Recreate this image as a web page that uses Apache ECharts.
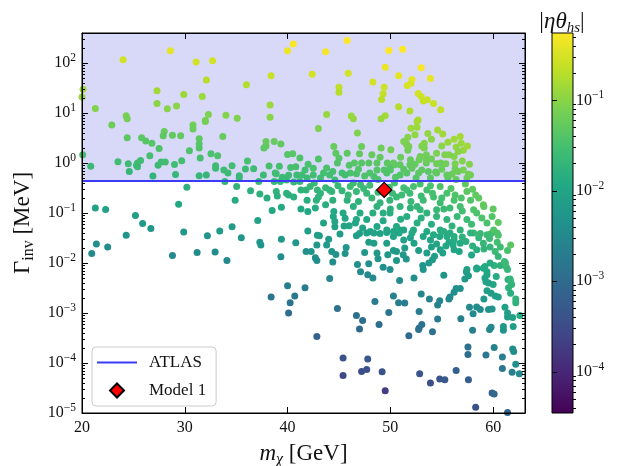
<!DOCTYPE html>
<html>
<head>
<meta charset="utf-8">
<script src="https://cdn.jsdelivr.net/npm/echarts@6/dist/echarts.min.js"></script>
<style>
  html, body { margin: 0; padding: 0; background: #fff; }
  #chart { width: 624px; height: 466px; }
</style>
</head>
<body>
<div id="chart"></div>
<script>
// each point: [m_chi (GeV), Gamma_inv (MeV), |eta theta_hs|]
const pointsAbove = [
  [20.1,30,0.14],[20.0,21,0.12],[21.3,12.4,0.09],[24.0,117,0.28],[28.6,176,0.37],[27.3,28,0.14],[27.3,15.6,0.10],
  [28.3,12.2,0.097],[29.2,13.8,0.10],[29.9,23.5,0.13],[31.1,105,0.28],[32.7,111,0.29],[32.1,46,0.19],[31.7,21.5,0.13],
  [36.0,37,0.18],[38.4,56,0.25],[38.3,14.5,0.13],[40.0,176,0.45],[40.55,240,0.52],[42.4,60,0.30],[43.7,168,0.50],
  [45.8,283,0.64],[45.9,63,0.30],[45.0,33,0.22],[45.0,26,0.19],[48.3,42,0.30],[49.5,83,0.43],[49.85,178,0.62],
  [51.2,190,0.70],[49.4,33,0.27],[49.3,24.5,0.23],[49.15,18.7,0.20],[50.8,56,0.38],[53.0,81,0.52],[52.1,47,0.39],
  [51.65,35.5,0.31],[52.0,39,0.32],[53.9,49,0.40],[52.7,24.7,0.29],[53.0,21.5,0.27],[53.2,17.4,0.24],[53.6,18.5,0.25],
  [54.2,15.6,0.25],[54.9,11.7,0.22],[50.8,13.4,0.19],[51.9,11,0.17],[49.5,8.8,0.14],[49.1,7.7,0.13],[43.8,9.4,0.12],
  [46.2,8.7,0.126],[46.4,7.7,0.12],[38.3,8.3,0.098],[34.0,9.1,0.091],[35.1,7.9,0.085],[32.3,9.4,0.084],[32.0,7.1,0.073],
  [24.3,8.8,0.077],[24.4,7.7,0.072],[52.7,7.3,0.16],
  [22.9,5.8,0.062],[24.4,3.2,0.046],[20.07,1.47,0.031],[20.85,0.86,0.024],[23.5,1.06,0.027],[24.5,0.97,0.025],
  [24.6,0.68,0.021],[25.3,0.9,0.024],[25.4,1.0,0.026],[25.7,1.13,0.027],[25.8,3.2,0.046],[26.2,2.76,0.043],
  [26.8,2.5,0.041],[26.6,1.4,0.031],[26.9,0.55,0.019],[27.5,1.96,0.036],[27.4,0.9,0.024],[27.7,1.05,0.026],
  [28.0,4.3,0.057],[27.9,3.5,0.048],[28.1,1.05,0.028],[29.0,0.94,0.027],[28.8,3.6,0.052],[29.6,3.5,0.052],
  [29.7,1.11,0.029],[29.1,0.59,0.021],[30.45,1.76,0.037],[30.8,5.8,0.067],[30.8,4.8,0.06],[31.4,3.06,0.048],
  [31.4,2.4,0.043],[31.4,2.0,0.039],[32.0,6.8,0.072],[31.5,1.26,0.031],[31.4,0.56,0.021],[32.1,0.58,0.021],
  [32.55,1.53,0.034],[33.2,1.4,0.036],[33.0,0.88,0.027],[33.0,0.79,0.026],[33.7,3.4,0.056],[33.8,0.73,0.026],
  [34.2,0.63,0.024],[34.6,0.88,0.0285],[36.1,1.1,0.032],[35.9,0.76,0.026],[36.7,0.77,0.027],[35.3,0.56,0.023],
  [35.3,0.51,0.022],[37.7,2.0,0.048],[37.9,2.2,0.051],[37.9,2.7,0.056],[38.2,0.87,0.032],[38.7,2.7,0.056],
  [39.2,0.86,0.031],[38.9,0.61,0.027],[39.35,2.4,0.052],[40.0,1.49,0.041],[40.5,1.53,0.042],[40.3,0.82,0.031],
  [40.1,0.57,0.025],[39.5,0.52,0.024],[41.2,1.26,0.038],[40.8,0.84,0.031],[40.9,0.58,0.026],[42.5,0.79,0.034],
  [42.5,0.58,0.029],[43.0,4.9,0.084],[25.4,0.84,0.024],
  [46.8,4.0,0.085],[52.0,5.0,0.13],[52.6,5.2,0.13],[52.4,3.7,0.11],[52.6,6.8,0.15],[53.65,3.9,0.11],[54.6,4.6,0.14],
  [55.1,3.8,0.14],[51.7,3.3,0.093],[51.55,2.5,0.081],[51.8,2.15,0.075],[51.7,1.8,0.068],[53.3,2.5,0.091],
  [53.3,2.0,0.081],[53.5,1.47,0.07],[53.5,1.0,0.058],[56.2,3.0,0.14],[56.4,2.1,0.115],[56.9,2.5,0.126],[57.1,1.8,0.12],
  [55.3,1.47,0.086],[55.4,0.97,0.07],[54.5,0.97,0.064],[56.3,0.97,0.079],[57.1,0.73,0.079],[57.8,0.58,0.07],
  [49.1,2.0,0.066],[50.05,1.85,0.07],[47.2,2.15,0.062],[47.0,1.53,0.053],[48.2,1.47,0.057],[44.5,2.15,0.056],
  [44.7,1.58,0.048],[45.8,1.58,0.048],[47.2,1.0,0.043],[47.9,1.0,0.043],[48.7,1.0,0.047],[49.7,1.0,0.047],
  [50.4,0.93,0.05],[50.95,0.93,0.05],[51.9,0.93,0.05],[52.4,0.95,0.056],[52.8,1.17,0.062],[43.5,0.63,0.03],
  [44.4,0.68,0.031],[44.85,1.0,0.038],[45.3,0.63,0.03],[46.1,0.63,0.034],[46.7,0.61,0.033],[48.0,0.63,0.037],
  [48.7,0.73,0.04],[49.4,0.73,0.04],[50.0,0.73,0.044],[50.95,0.58,0.039],[51.6,0.63,0.041],[52.75,0.63,0.046],
  [54.5,0.63,0.051],[55.5,0.58,0.054],[41.4,0.58,0.026],[41.7,0.73,0.029],
  [56.6,1.7,0.10],[56.2,1.36,0.092],[55.7,1.47,0.086],[54.9,1.0,0.065],[56.3,0.76,0.069],[56.6,0.68,0.065],
  [57.6,0.6,0.07],[57.45,0.5,0.065],[56.4,0.47,0.054],[55.6,0.5,0.05],[54.4,0.66,0.051],[53.7,0.68,0.047],
  [52.9,1.36,0.067],[53.06,0.73,0.05],[51.95,1.17,0.056],[52.1,0.79,0.051],[51.3,0.75,0.044],[50.3,1.0,0.051],
  [49.97,0.79,0.042],[49.65,0.63,0.037],[48.4,0.54,0.034],[51.3,2.7,0.084],[51.6,2.3,0.079],[53.06,2.2,0.086],
  [53.5,1.17,0.062],[54.5,1.58,0.081],[46.5,1.0,0.043],[43.2,0.5,0.027],[44.1,0.58,0.029],[44.6,0.46,0.026],
  [45.6,0.58,0.029],[38.8,0.63,0.027],[39.9,0.46,0.023],[41.9,0.5,0.024],[37.65,0.58,0.026],
  [42.0,0.95,0.033],[43.0,1.2,0.038],[43.8,0.8,0.034],[45.0,1.25,0.041],[46.0,0.9,0.04],[46.9,0.75,0.039],
  [47.5,0.55,0.036],[48.8,0.47,0.035],[49.0,1.3,0.054],[50.5,0.52,0.04],[51.0,1.3,0.06],[52.5,0.5,0.043],
  [53.9,0.5,0.045],[54.0,1.2,0.066],[55.0,0.75,0.06],[56.0,0.6,0.061],[57.0,1.1,0.09],[57.7,0.95,0.09],
  [55.6,2.6,0.12],[56.8,3.4,0.15],[57.5,2.2,0.14],[55.0,2.2,0.1],[54.0,3.0,0.1]
];

const pointsBelow = [
  [33.9,0.43,0.02],[35.05,0.34,0.018],[36.4,0.28,0.016],[37.2,0.43,0.022],[37.3,0.24,0.017],[39.3,0.43,0.022],
  [38.7,0.43,0.022],
  [30.2,0.33,0.016],[29.4,0.15,0.011],[21.3,0.126,0.0091],[22.3,0.118,0.0088],[25.2,0.089,0.0077],[25.9,0.062,0.0064],
  [26.7,0.049,0.0057],[24.3,0.036,0.0049],[29.9,0.042,0.0056],[32.2,0.035,0.0052],[33.4,0.044,0.0064],
  [34.6,0.053,0.007],[35.5,0.032,0.0054],[34.9,0.18,0.013],[37.1,0.071,0.009],[38.0,0.2,0.015],[38.5,0.113,0.0114],
  [38.9,0.27,0.0176],[39.0,0.22,0.016],[39.4,0.13,0.0124],[39.9,0.25,0.017],[40.1,0.23,0.0164],[40.6,0.21,0.0153],
  [40.6,0.42,0.022],[41.2,0.43,0.022],[41.3,0.29,0.018],[41.8,0.29,0.018],[41.3,0.12,0.0117],[41.97,0.107,0.011],
  [42.8,0.18,0.016],[42.9,0.29,0.021],[42.6,0.4,0.024],[41.97,0.044,0.0072],[42.9,0.036,0.0072],[39.4,0.03,0.0059],
  [21.4,0.024,0.004],[20.95,0.0155,0.0032],[22.5,0.021,0.0038],[28.8,0.0142,0.0033],[31.2,0.0163,0.0035],
  [32.95,0.0166,0.0035],[34.1,0.0112,0.0032],[37.3,0.026,0.0054],[37.4,0.023,0.0052],[39.35,0.0134,0.0039],
  [40.8,0.0255,0.0054],[40.0,0.0035,0.002],[38.4,0.0021,0.0015],[40.25,0.0016,0.0014],[40.7,0.0022,0.0016],
  [40.1,0.001,0.0011],[41.7,0.0032,0.0019],[41.8,0.017,0.0044],[42.3,0.017,0.005],[42.7,0.0128,0.0043],
  [42.85,0.0113,0.004],[42.85,0.00034,0.0007],[42.85,0.023,0.0058],
  [43.1,0.035,0.0072],[44.0,0.03,0.0066],[43.8,0.023,0.0058],[44.3,0.017,0.005],[44.7,0.0148,0.0046],
  [44.4,0.0105,0.0039],[45.7,0.0205,0.0054],[45.6,0.0155,0.0047],[44.6,0.053,0.0088],[45.1,0.038,0.0074],
  [45.5,0.055,0.0089],[46.0,0.056,0.01],[46.6,0.063,0.0107],[46.7,0.035,0.008],[47.0,0.039,0.0084],[47.3,0.05,0.0095],
  [47.9,0.026,0.0068],[47.5,0.0163,0.0054],[46.8,0.0093,0.0041],[47.1,0.0067,0.0035],[47.9,0.0097,0.0042],
  [47.8,0.0058,0.0033],[48.3,0.005,0.0033],[44.1,0.0049,0.0027],[44.85,0.00123,0.0013],[46.7,0.00089,0.0013],
  [47.3,0.00071,0.0011],[47.0,0.00048,0.00093],[48.5,0.0017,0.0019]
];

const pointsDeep = [
  [45.4,0.000126,0.00043],[45.4,5.6e-5,0.00029],[47.8,0.00012,0.00047],[47.2,6.8e-5,0.00035],[47.7,7.4e-5,0.00037],
  [49.2,6.7e-5,0.00038],[49.5,2.8e-5,0.0002],[51.8,0.00035,0.00097],[52.75,0.00047,0.0012],[54.1,0.00042,0.0013],
  [52.85,6.1e-5,0.00045],[53.9,4.0e-5,0.00036],[54.8,4.8e-5,0.00045],[55.3,4.6e-5,0.00048],[56.4,7.1e-5,0.00067],
  [57.6,4.6e-5,0.00062],[58.3,1.3e-5,0.00039],[57.55,0.00021,0.0013],[57.55,0.000148,0.0011],[58.0,0.00045,0.0023],
  [59.3,0.000145,0.0016],[60.1,0.000205,0.0026],[60.9,0.000132,0.0021],[60.9,7.8e-5,0.0016],[61.85,6.5e-5,0.0024],
  [62.2,9.5e-5,0.0042],[62.55,6.1e-5,0.0033],[59.9,2.5e-5,0.00068],[60.1,2.4e-5,0.0009],[61.4,1.02e-5,0.00077],
  [61.9,0.00019,0.0042],[62.0,0.00017,0.0039],[59.65,0.00047,0.0029],[61.0,0.00045,0.005],
  [48.9,0.00059,0.0011],[49.85,0.00103,0.0015],[50.3,0.0022,0.0024],[50.8,0.0016,0.0021],[51.4,0.00158,0.002],
  [52.8,0.00107,0.0019],[53.0,0.0024,0.0028],[52.8,0.0005,0.0013],[53.06,0.00059,0.0014],[53.8,0.0019,0.0025],
  [54.6,0.00076,0.0018],[54.6,0.00145,0.0025],[54.8,0.00177,0.0027],[55.7,0.0019,0.0031],[55.2,0.0057,0.0054],
  [56.4,0.0031,0.0044],[56.2,0.0026,0.0041],[56.8,0.0031,0.0044],[56.86,0.00077,0.0022],[57.7,0.0013,0.0033],
  [58.05,0.00097,0.0034],[58.4,0.00132,0.004],[58.75,0.00117,0.0038],[59.1,0.0019,0.0059],[59.55,0.00117,0.0046],
  [59.9,0.0012,0.0047],[59.8,0.00052,0.0031],[60.2,0.0022,0.0085],[60.5,0.0021,0.0082],[61.15,0.0013,0.0086],
  [61.4,0.00083,0.0069],[61.0,0.00054,0.0056],[61.9,0.00081,0.0086],[61.95,0.00054,0.007],[62.2,0.0016,0.017],
  [62.6,0.00089,0.0127],[61.5,0.0032,0.017],[61.7,0.0025,0.015],[61.45,0.0047,0.016],[59.8,0.0025,0.0068],
  [59.4,0.0028,0.0072],[59.2,0.005,0.0095],[59.3,0.0042,0.0087],[60.3,0.0054,0.013],[60.0,0.0037,0.011],
  [57.4,0.0066,0.0074],[57.25,0.0048,0.0063],[57.6,0.0056,0.0068],[58.4,0.0076,0.0095],[59.4,0.0067,0.011],
  [59.05,0.0079,0.012],[60.1,0.0089,0.017],[60.7,0.0089,0.017],[61.1,0.0107,0.025],[61.3,0.0082,0.022],
  [61.8,0.0037,0.018],[61.65,0.0048,0.021],[62.2,0.0019,0.018],[61.4,0.001,0.0076],[55.8,0.0021,0.0033],
  [61.4,0.0074,0.021],[61.2,0.01,0.024],[59.7,0.01,0.0135],[59.2,0.0085,0.0124],[58.4,0.008,0.0098],
  [57.45,0.0074,0.0079],[59.4,0.0058,0.0104],[59.55,0.004,0.0085],[61.7,0.0043,0.02],[49.97,0.0074,0.004],
  [53.2,0.0074,0.005],[52.3,0.005,0.0041],[50.9,0.0045,0.0034]
];

const pointsBand = [
  [49.3,0.0082,0.0042],[48.8,0.0122,0.0052],[49.75,0.0147,0.0057],[50.3,0.0178,0.0068],[50.6,0.0113,0.0054],
  [51.4,0.02,0.0072],[51.25,0.0147,0.0062],[51.55,0.012,0.0056],[53.15,0.0089,0.0054],[53.75,0.01,0.0058],
  [54.1,0.0117,0.007],[54.3,0.0136,0.0075],[54.0,0.021,0.0084],[53.9,0.029,0.0099],[55.4,0.022,0.0106],
  [55.7,0.026,0.0114],[56.2,0.029,0.0136],[56.1,0.023,0.012],[55.5,0.034,0.013],[54.8,0.034,0.012],[54.5,0.024,0.01],
  [57.0,0.033,0.0166],[57.35,0.027,0.015],[58.0,0.022,0.0164],[58.4,0.0185,0.015],[57.9,0.0144,0.011],
  [59.05,0.025,0.021],[59.1,0.019,0.0186],[59.65,0.031,0.024],[59.7,0.021,0.02],[60.4,0.026,0.029],[60.7,0.021,0.026],
  [60.5,0.036,0.035],[59.8,0.039,0.027],[58.75,0.039,0.022],[58.6,0.032,0.02],[56.7,0.017,0.0104],[54.85,0.0185,0.0088],
  [55.1,0.0158,0.0089],[53.55,0.0158,0.0072],[52.75,0.0178,0.0077],[52.3,0.025,0.0091],[51.95,0.032,0.0091],
  [52.1,0.04,0.0115],[51.3,0.029,0.0088],[50.85,0.04,0.0102],[50.3,0.034,0.0094],[49.65,0.041,0.0094],
  [49.0,0.039,0.0092],[48.05,0.043,0.0097],[48.4,0.025,0.0074],[61.4,0.0178,0.032],[61.7,0.023,0.046],
  [60.2,0.017,0.024],[60.5,0.0135,0.021],[56.2,0.0185,0.0108],[49.65,0.025,0.0074],[50.6,0.017,0.0067],
  [48.7,0.0158,0.0059],
  [41.9,0.18,0.0146],[43.2,0.25,0.019],[43.7,0.32,0.021],[44.3,0.27,0.02],[42.7,0.126,0.0135],[43.7,0.147,0.0146],
  [44.4,0.18,0.0164],[45.3,0.28,0.02],[46.1,0.34,0.025],[46.7,0.27,0.022],[47.1,0.37,0.026],[47.7,0.25,0.021],
  [48.2,0.2,0.021],[45.8,0.18,0.0164],[46.4,0.135,0.0157],[45.4,0.1,0.012],[44.45,0.085,0.011],[43.5,0.063,0.0095],
  [47.05,0.1,0.0135],[47.7,0.074,0.0116],[48.7,0.135,0.017],[49.3,0.1,0.0148],[49.95,0.18,0.02],[50.6,0.21,0.024],
  [51.3,0.32,0.029],[51.9,0.25,0.026],[50.95,0.135,0.019],[51.6,0.085,0.015],[52.6,0.135,0.021],[53.2,0.18,0.025],
  [53.55,0.29,0.031],[54.2,0.21,0.03],[54.85,0.16,0.026],[55.5,0.25,0.035],[56.2,0.18,0.034],[56.8,0.135,0.031],
  [57.8,0.18,0.039],[58.3,0.23,0.053],[58.6,0.2,0.049],[59.1,0.135,0.05],[58.4,0.1,0.035],[57.45,0.074,0.025],
  [56.5,0.085,0.023],[55.5,0.074,0.019],[54.5,0.085,0.019],[53.55,0.1,0.018],[52.6,0.063,0.0145],[50.6,0.054,0.012],
  [49.65,0.046,0.01],[48.7,0.054,0.011],[59.4,0.063,0.034],[59.9,0.085,0.039],[60.05,0.046,0.039],[58.1,0.04,0.022],
  [56.8,0.046,0.017],[55.8,0.04,0.014],[54.85,0.046,0.014],[53.55,0.043,0.012],[50.95,0.046,0.011],[47.7,0.04,0.0085],
  [49.0,0.16,0.0186],[51.1,0.23,0.025],[51.6,0.29,0.0275],[52.25,0.34,0.033],[54.1,0.25,0.032],[54.85,0.34,0.038],
  [56.3,0.23,0.038],[57.45,0.27,0.047],[59.05,0.147,0.052],[58.1,0.117,0.038],[55.8,0.126,0.025],[54.5,0.117,0.022],
  [52.9,0.117,0.02],[51.95,0.126,0.018],[49.97,0.1,0.0148],
  [48.4,0.04,0.0093],[50.3,0.043,0.0106],[51.3,0.046,0.011],[52.25,0.046,0.0124],[53.2,0.034,0.0106],[54.2,0.037,0.0124],
  [55.2,0.043,0.0146],[56.2,0.034,0.0146],[56.8,0.025,0.0126],[57.8,0.04,0.018],[59.4,0.037,0.026],[60.4,0.04,0.036],
  [44.1,0.29,0.02],[44.5,0.107,0.0124],[45.6,0.079,0.0107],[46.7,0.074,0.0116],[44.6,0.068,0.0099],
  [42.2,0.34,0.021],[43.0,0.21,0.018],[44.9,0.35,0.022],[45.9,0.23,0.021],[46.4,0.4,0.026],[47.4,0.31,0.024],
  [48.0,0.36,0.027],[48.8,0.26,0.024],[49.9,0.33,0.027],[50.4,0.4,0.03],[50.2,0.25,0.024],[52.9,0.38,0.033],
  [53.9,0.35,0.035],[55.0,0.2,0.03],[55.9,0.31,0.04],[56.9,0.2,0.037],[57.3,0.38,0.05],[58.0,0.3,0.05],
  [55.2,0.12,0.024],[53.0,0.22,0.026],[52.0,0.17,0.022],[50.0,0.12,0.016],[48.3,0.1,0.0145],[46.9,0.17,0.017],
  [57.0,0.11,0.029],[58.9,0.08,0.036],[57.9,0.06,0.027],[56.0,0.055,0.018],[54.0,0.06,0.015],[53.0,0.08,0.016],
  [51.0,0.075,0.014],[49.3,0.07,0.012],[60.5,0.065,0.05],[60.0,0.12,0.05]
];

const model1 = [49.4, 0.29];
const atlasLimit = 0.44;
const massRange = [20, 63.1];
const widthRange = [1e-5, 400];
const mixingRange = [3.5e-5, 0.555];
const massTicks = [20, 30, 40, 50, 60];
const widthTicks = [1e-5, 1e-4, 1e-3, 1e-2, 1e-1, 1, 10, 100];
const mixingTicks = [1e-4, 1e-3, 1e-2, 1e-1];
const viridis = ['#440154', '#482475', '#414487', '#355f8d', '#2a788e', '#21918c',
  '#22a884', '#44bf70', '#7ad151', '#bddf26', '#fde725'];

const serif = "'Liberation Serif', 'DejaVu Serif', serif";

// minor log ticks (2..9 per decade) inside a range
const minorTicks = (lo, hi) => {
  const out = [];
  for (let e = Math.floor(Math.log10(lo)); e <= Math.ceil(Math.log10(hi)); e++) {
    for (let k = 2; k <= 9; k++) {
      const v = k * Math.pow(10, e);
      if (v >= lo && v <= hi) out.push(v);
    }
  }
  return out;
};

const powLabel = (v) => {
  const e = Math.round(Math.log10(v));
  return '{b|10}{s|' + (e < 0 ? '\u2212' + (-e) : e) + '}';
};

const powRich = {
  b: { fontFamily: serif, fontSize: 16, color: '#111', lineHeight: 22, verticalAlign: 'middle' },
  s: { fontFamily: serif, fontSize: 11.5, color: '#111', lineHeight: 22, verticalAlign: 'top' }
};

const allPoints = pointsAbove.concat(pointsBelow, pointsDeep, pointsBand)
  .map(p => [p[0], p[1], p[2], Math.log10(p[2])]);

const frame = { show: true, onZero: false, lineStyle: { color: '#000', width: 1 } };
const noLine = { show: false };

const logYAxis = (position, ticks, len, line, withLabels) => ({
  type: 'log',
  gridIndex: 0,
  position: position,
  min: widthRange[0],
  max: widthRange[1],
  z: 10,
  axisLine: line ? frame : noLine,
  axisTick: { show: true, inside: true, length: len, customValues: ticks, lineStyle: { color: '#000', width: 1 } },
  axisLabel: withLabels
    ? { show: true, customValues: ticks, formatter: powLabel, rich: powRich, margin: 6 }
    : { show: false },
  splitLine: { show: false },
  minorTick: { show: false }
});

const yAxes = [
  Object.assign(logYAxis('left', widthTicks, 6, true, true), {
    name: '{g|\u0393}{sub|inv}{n| [MeV]}',
    nameLocation: 'middle',
    nameRotate: 90,
    nameGap: 43,
    nameTextStyle: {
      rich: {
        g: { fontFamily: serif, fontSize: 23, color: '#111', lineHeight: 28, verticalAlign: 'middle' },
        sub: { fontFamily: serif, fontSize: 16, color: '#111', lineHeight: 28, verticalAlign: 'bottom' },
        n: { fontFamily: serif, fontSize: 23, color: '#111', lineHeight: 28, verticalAlign: 'middle' }
      }
    }
  }),
  logYAxis('left', minorTicks(widthRange[0], widthRange[1]), 3, false, false),
  logYAxis('right', widthTicks, 6, true, false),
  logYAxis('right', minorTicks(widthRange[0], widthRange[1]), 3, false, false),
  {
    type: 'log',
    gridIndex: 1,
    position: 'right',
    min: mixingRange[0],
    max: mixingRange[1],
    z: 10,
    axisLine: noLine,
    axisTick: { show: true, inside: false, length: 5, customValues: mixingTicks, lineStyle: { color: '#000' } },
    axisLabel: { show: true, customValues: mixingTicks, formatter: powLabel, rich: powRich, margin: 3 },
    splitLine: { show: false }
  },
  {
    type: 'log',
    gridIndex: 1,
    position: 'right',
    min: mixingRange[0],
    max: mixingRange[1],
    z: 10,
    axisLine: noLine,
    axisTick: { show: true, inside: false, length: 3, customValues: minorTicks(mixingRange[0], mixingRange[1]), lineStyle: { color: '#000' } },
    axisLabel: { show: false },
    splitLine: { show: false }
  }
];

const xAxes = [
  {
    type: 'value',
    gridIndex: 0,
    position: 'bottom',
    min: massRange[0],
    max: massRange[1],
    z: 10,
    axisLine: frame,
    axisTick: { show: true, inside: true, length: 6, customValues: massTicks, lineStyle: { color: '#000' } },
    axisLabel: { customValues: massTicks, fontFamily: serif, fontSize: 16, color: '#111', margin: 7 },
    splitLine: { show: false },
    name: '{i|m}{sub|\u03c7}{n| [GeV]}',
    nameLocation: 'middle',
    nameGap: 27,
    nameTextStyle: {
      rich: {
        i: { fontFamily: serif, fontStyle: 'italic', fontSize: 23, color: '#111', lineHeight: 28, verticalAlign: 'middle' },
        sub: { fontFamily: serif, fontStyle: 'italic', fontSize: 16, color: '#111', lineHeight: 28, verticalAlign: 'bottom' },
        n: { fontFamily: serif, fontSize: 23, color: '#111', lineHeight: 28, verticalAlign: 'middle' }
      }
    }
  },
  {
    type: 'value',
    gridIndex: 0,
    position: 'top',
    min: massRange[0],
    max: massRange[1],
    z: 10,
    axisLine: frame,
    axisTick: { show: true, inside: true, length: 6, customValues: massTicks, lineStyle: { color: '#000' } },
    axisLabel: { show: false },
    splitLine: { show: false }
  },
  {
    type: 'value',
    gridIndex: 1,
    min: 0,
    max: 1,
    show: false
  }
];

const chart = echarts.init(document.getElementById('chart'));

const option = {
  animation: false,
  backgroundColor: '#fff',
  grid: [
    {
      left: 82, right: 99, top: 33, bottom: 53, show: true, z: 12,
      outerBoundsMode: 'none', containLabel: false,
      backgroundColor: 'transparent', borderColor: '#000', borderWidth: 1
    },
    {
      left: 552, width: 21, top: 33, bottom: 53, show: true,
      outerBoundsMode: 'none', containLabel: false,
      borderColor: '#000', borderWidth: 1,
      backgroundColor: new echarts.graphic.LinearGradient(0, 1, 0, 0,
        viridis.map((c, i) => ({ offset: i / (viridis.length - 1), color: c })))
    }
  ],
  xAxis: xAxes,
  yAxis: yAxes,
  visualMap: {
    type: 'continuous',
    show: false,
    seriesIndex: 1,
    dimension: 3,
    min: Math.log10(mixingRange[0]),
    max: Math.log10(mixingRange[1]),
    inRange: { color: viridis }
  },
  legend: {
    data: [
      { name: 'ATLAS', icon: 'path://M0,0 L40,0 L40,2 L0,2 Z' },
      { name: 'Model 1', icon: 'path://M5,0 L10,5 L5,10 L0,5 Z' }
    ],
    orient: 'vertical',
    left: 92,
    top: 347,
    itemWidth: 40,
    itemHeight: 14,
    itemGap: 11,
    padding: [7, 10, 7, 5],
    backgroundColor: 'rgba(255,255,255,0.85)',
    borderColor: '#cccccc',
    borderWidth: 1,
    borderRadius: 4,
    selectedMode: false,
    textStyle: { fontFamily: serif, fontSize: 17, color: '#111', padding: [0, 0, 0, 7] }
  },
  graphic: [
    {
      type: 'text',
      x: 562,
      y: 22,
      z: 20,
      style: {
        text: '{n||}{g|\u03b7\u03b8}{sub|hs}{n||}',
        align: 'center',
        verticalAlign: 'middle',
        rich: {
          n: { fontFamily: serif, fontSize: 23, fill: '#111', lineHeight: 28, verticalAlign: 'middle' },
          g: { fontFamily: serif, fontStyle: 'italic', fontSize: 23, fill: '#111', lineHeight: 28, verticalAlign: 'middle' },
          sub: { fontFamily: serif, fontStyle: 'italic', fontSize: 15, fill: '#111', lineHeight: 28, verticalAlign: 'bottom' }
        }
      }
    }
  ],
  series: [
    {
      name: 'excluded',
      type: 'line',
      xAxisIndex: 0,
      yAxisIndex: 0,
      data: [[massRange[0], atlasLimit], [massRange[1], atlasLimit]],
      symbol: 'none',
      lineStyle: { width: 0 },
      areaStyle: { origin: 'end', color: '#d8d8f8', opacity: 1 },
      silent: true,
      z: 1
    },
    {
      name: 'scan',
      type: 'scatter',
      xAxisIndex: 0,
      yAxisIndex: 0,
      data: allPoints,
      symbolSize: 7,
      itemStyle: { opacity: 1 },
      silent: true,
      z: 3
    },
    {
      name: 'ATLAS',
      type: 'line',
      xAxisIndex: 0,
      yAxisIndex: 0,
      data: [[massRange[0], atlasLimit], [massRange[1], atlasLimit]],
      symbol: 'none',
      lineStyle: { color: '#3b3bf7', width: 2 },
      itemStyle: { color: '#3b3bf7' },
      silent: true,
      z: 5
    },
    {
      name: 'Model 1',
      type: 'scatter',
      xAxisIndex: 0,
      yAxisIndex: 0,
      data: [model1],
      symbol: 'diamond',
      symbolSize: 15,
      itemStyle: { color: '#ff0000', borderColor: '#000', borderWidth: 1.2, opacity: 1 },
      silent: true,
      z: 6
    }
  ]
};

chart.setOption(option);
</script>
</body>
</html>
